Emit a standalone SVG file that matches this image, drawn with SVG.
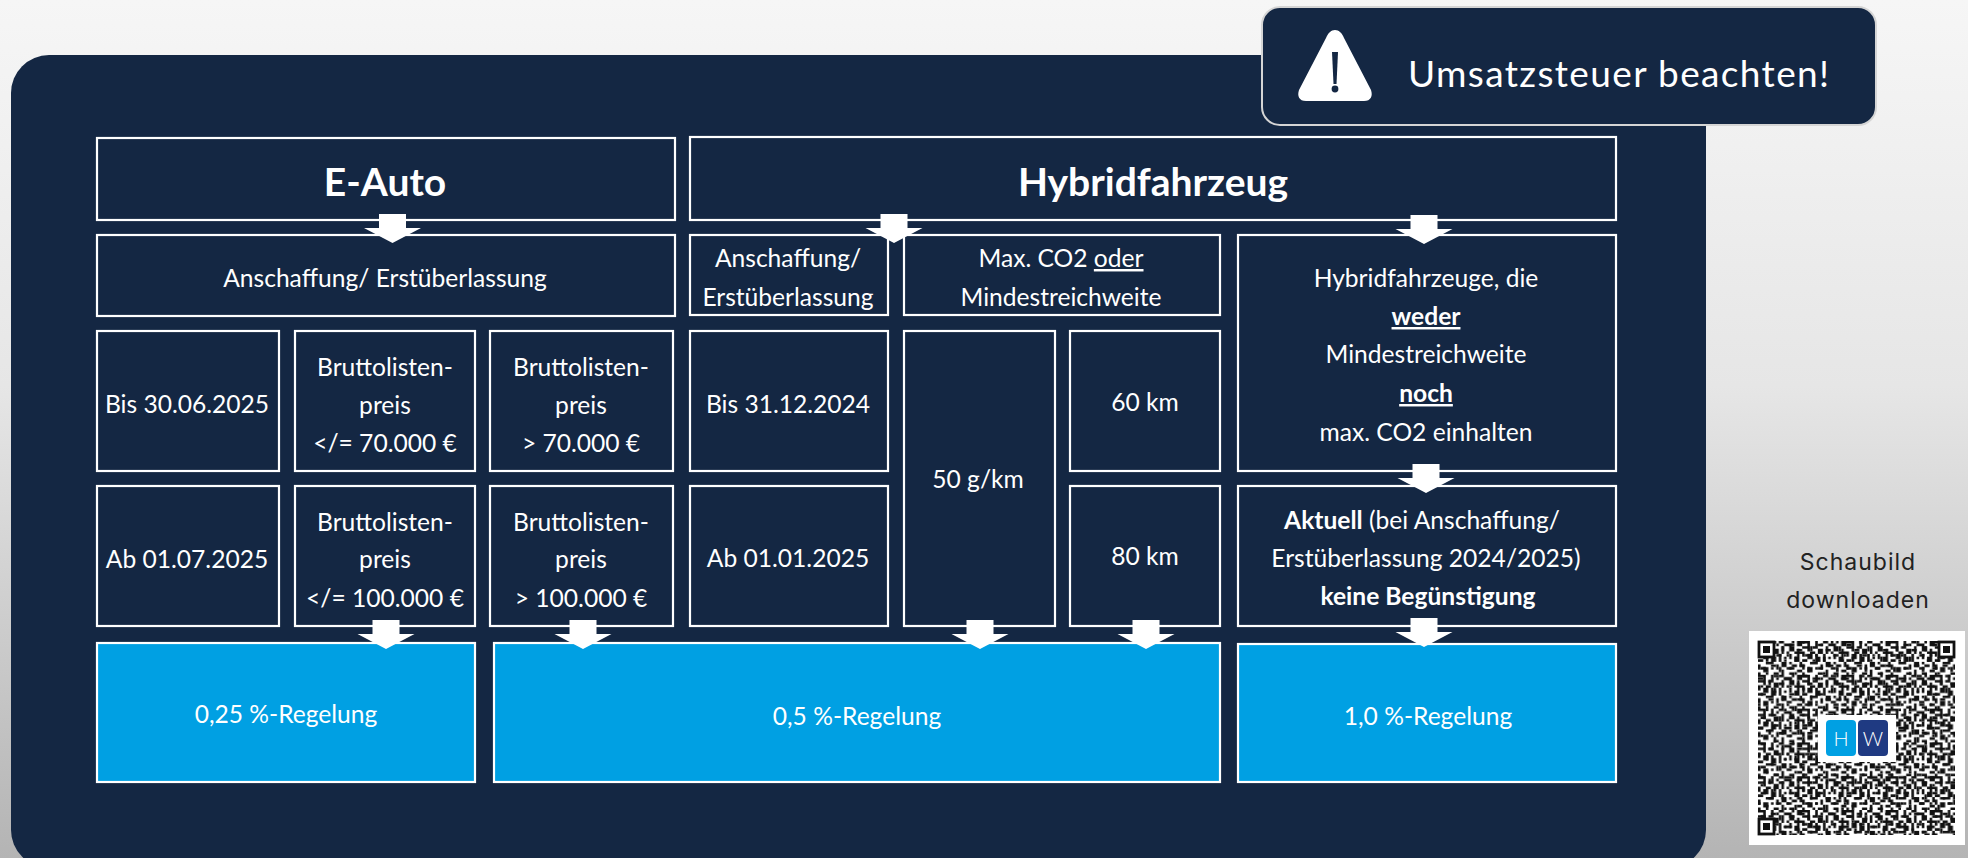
<svg xmlns="http://www.w3.org/2000/svg" width="1968" height="858" viewBox="0 0 1968 858">
<style>
.b{fill:#142743;stroke:#fff;stroke-width:2.2}
.c{fill:#00a0e3;stroke:#fff;stroke-width:2.2}
text{font-family:"Lato","Carlito","Liberation Sans",sans-serif;fill:#fff;font-size:24.6px;text-anchor:middle}
.h{font-size:39px;font-weight:700}
.s{font-weight:700}
.u{text-decoration:underline}
.q{font-family:"Inter","Open Sans",sans-serif;fill:#222;font-size:23px;letter-spacing:1px}
</style>
<defs>
<linearGradient id="bg" x1="0" y1="0" x2="0" y2="1"><stop offset="0" stop-color="#f6f6f6"/><stop offset=".45" stop-color="#e6e6e6"/><stop offset="1" stop-color="#b4b4b4"/></linearGradient>
<polygon id="ar" points="-13.5,-29 13.5,-29 13.5,-15 28.5,-15 0,0 -28.5,-15 -13.5,-15" fill="#fff"/>
<pattern id="qa" width="17" height="13" patternUnits="userSpaceOnUse" patternTransform="translate(1758 641) scale(2.6)">
<path d="M0 0h3v1h-3zM5 0h1v2h-1zM8 0h2v1h-2zM13 0h1v1h-1zM15 0h2v2h-2zM2 1h1v3h-1zM7 1h1v1h-1zM10 1h3v1h-3zM0 2h2v1h-2zM4 2h2v1h-2zM9 2h1v3h-1zM12 2h2v2h-2zM6 3h2v2h-2zM15 3h1v1h-1zM0 4h1v2h-1zM3 4h2v1h-2zM11 4h1v1h-1zM14 4h3v1h-3zM2 5h2v2h-2zM5 5h1v1h-1zM8 5h1v3h-1zM12 5h1v2h-1zM15 5h1v1h-1zM0 7h2v1h-2zM5 6h2v2h-2zM10 6h1v1h-1zM14 6h2v2h-2zM3 8h3v1h-3zM9 8h2v2h-2zM12 8h1v1h-1zM16 8h1v2h-1zM0 9h1v2h-1zM7 9h1v2h-1zM13 9h2v1h-2zM2 10h2v2h-2zM5 10h1v1h-1zM11 10h2v1h-2zM15 11h2v1h-2zM9 11h1v2h-1zM6 12h2v1h-2zM0 12h1v1h-1zM12 12h2v1h-2z" fill="#111"/>
</pattern>
<pattern id="qb" width="11" height="19" patternUnits="userSpaceOnUse" patternTransform="translate(1758 641) scale(2.6)">
<path d="M1 1h2v1h-2zM6 0h1v1h-1zM9 2h1v2h-1zM4 3h2v1h-2zM0 5h1v1h-1zM7 5h2v1h-2zM3 6h1v2h-1zM10 7h1v1h-1zM5 9h2v1h-2zM1 10h2v1h-2zM8 10h1v2h-1zM3 12h1v1h-1zM6 13h2v1h-2zM0 14h2v1h-2zM10 14h1v1h-1zM4 15h1v2h-1zM8 16h2v1h-2zM1 17h1v1h-1zM6 18h1v1h-1z" fill="#111"/>
</pattern>
</defs>
<rect id="background" width="1968" height="858" fill="url(#bg)"/>
<rect id="panel" x="11" y="55" width="1695" height="813" rx="38" fill="#142743"/>
<g id="callout">
<rect x="1262" y="7" width="614" height="118" rx="18" fill="#142743" stroke="#d5d5d5" stroke-width="2"/>
<path d="M1335 30c-4 0-7 3-9 8l-27 52c-2 6 0 11 7 11h58c7 0 9-5 7-11l-27-52c-2-5-5-8-9-8z" fill="#fff"/>
<path d="M1332 52h6l-1.500 32h-3z" fill="#142743"/><circle cx="1335" cy="89" r="3.400" fill="#142743"/>
<text x="1408" y="87" textLength="421" lengthAdjust="spacing" style="font-size:37px;text-anchor:start">Umsatzsteuer beachten!</text>
</g>
<g id="node-eauto"><rect class="b" x="97" y="138" width="578" height="82"/><text class="h" x="385" y="196">E-Auto</text></g>
<g id="node-hybrid"><rect class="b" x="690" y="137" width="926" height="83"/><text class="h" x="1153" y="196">Hybridfahrzeug</text></g>
<g id="node-e-anschaffung"><rect class="b" x="97" y="235" width="578" height="81"/><text x="385" y="287">Anschaffung/ Erstüberlassung</text></g>
<g id="node-h-anschaffung"><rect class="b" x="690" y="235" width="198" height="80"/><text x="788" y="267">Anschaffung/</text><text x="788" y="306">Erstüberlassung</text></g>
<g id="node-h-max"><rect class="b" x="904" y="235" width="316" height="80"/><text x="1061" y="267">Max. CO2 <tspan class="u">oder</tspan></text><text x="1061" y="306">Mindestreichweite</text></g>
<g id="node-h-weder"><rect class="b" x="1238" y="235" width="378" height="236"/><text x="1426" y="287">Hybridfahrzeuge, die</text><text class="s" x="1426" y="325"><tspan class="u">weder</tspan></text><text x="1426" y="363">Mindestreichweite</text><text class="s" x="1426" y="402"><tspan class="u">noch</tspan></text><text x="1426" y="441">max. CO2 einhalten</text></g>
<g id="node-bis-2025"><rect class="b" x="97" y="331" width="182" height="140"/><text x="187" y="413">Bis 30.06.2025</text></g>
<g id="node-blp-70a"><rect class="b" x="295" y="331" width="180" height="140"/><text x="385" y="376">Bruttolisten-</text><text x="385" y="414">preis</text><text x="385" y="452">&lt;/= 70.000 €</text></g>
<g id="node-blp-70b"><rect class="b" x="490" y="331" width="183" height="140"/><text x="581" y="376">Bruttolisten-</text><text x="581" y="414">preis</text><text x="581" y="452">&gt; 70.000 €</text></g>
<g id="node-bis-2024"><rect class="b" x="690" y="331" width="198" height="140"/><text x="788" y="413">Bis 31.12.2024</text></g>
<g id="node-50g"><rect class="b" x="904" y="331" width="151" height="295"/><text x="978" y="488">50 g/km</text></g>
<g id="node-60km"><rect class="b" x="1070" y="331" width="150" height="140"/><text x="1145" y="411">60 km</text></g>
<g id="node-ab-2025a"><rect class="b" x="97" y="486" width="182" height="140"/><text x="187" y="568">Ab 01.07.2025</text></g>
<g id="node-blp-100a"><rect class="b" x="295" y="486" width="180" height="140"/><text x="385" y="531">Bruttolisten-</text><text x="385" y="568">preis</text><text x="385" y="607">&lt;/= 100.000 €</text></g>
<g id="node-blp-100b"><rect class="b" x="490" y="486" width="183" height="140"/><text x="581" y="531">Bruttolisten-</text><text x="581" y="568">preis</text><text x="581" y="607">&gt; 100.000 €</text></g>
<g id="node-ab-2025b"><rect class="b" x="690" y="486" width="198" height="140"/><text x="788" y="567">Ab 01.01.2025</text></g>
<g id="node-80km"><rect class="b" x="1070" y="486" width="150" height="140"/><text x="1145" y="565">80 km</text></g>
<g id="node-aktuell"><rect class="b" x="1238" y="486" width="378" height="140"/><text x="1422" y="529"><tspan class="s">Aktuell</tspan> (bei Anschaffung/</text><text x="1426" y="567">Erstüberlassung 2024/2025)</text><text class="s" x="1428" y="605">keine Begünstigung</text></g>
<g id="node-025"><rect class="c" x="97" y="643" width="378" height="139"/><text x="286" y="723">0,25 %-Regelung</text></g>
<g id="node-05"><rect class="c" x="494" y="643" width="726" height="139"/><text x="857" y="725">0,5 %-Regelung</text></g>
<g id="node-10"><rect class="c" x="1238" y="644" width="378" height="138"/><text x="1428" y="725">1,0 %-Regelung</text></g>
<g id="connectors">
<use href="#ar" x="392.500" y="243"/><use href="#ar" x="894" y="243"/><use href="#ar" x="1424" y="244"/>
<use href="#ar" x="1426" y="493"/><use href="#ar" x="386" y="649"/><use href="#ar" x="583" y="649"/>
<use href="#ar" x="980" y="649"/><use href="#ar" x="1146" y="649"/><use href="#ar" x="1424" y="647"/>
</g>
<g id="qr-block">
<text class="q" x="1858" y="570">Schaubild</text>
<text class="q" x="1858" y="608">downloaden</text>
<rect x="1749" y="631" width="216" height="214" fill="#fff"/>
<rect x="1758" y="641" width="197" height="194" fill="url(#qa)"/>
<rect x="1758" y="641" width="197" height="194" fill="url(#qb)"/>
<g fill="#fff" stroke="#111" stroke-width="2.800"><rect x="1759" y="642" width="15" height="15"/><rect x="1939" y="642" width="15" height="15"/><rect x="1759" y="819" width="15" height="15"/></g>
<g fill="#111"><rect x="1763" y="646" width="7" height="7"/><rect x="1943" y="646" width="7" height="7"/><rect x="1763" y="823" width="7" height="7"/></g>
<rect x="1818" y="715" width="78" height="47" fill="#fff"/>
<rect x="1826" y="720" width="30" height="36" rx="4" fill="#00a0e3"/><rect x="1858" y="720" width="30" height="36" rx="4" fill="#1f3a82"/>
<text x="1841" y="746" style="font-size:20px;font-weight:300">H</text><text x="1873" y="746" style="font-size:20px;font-weight:300">W</text>
</g>
</svg>
